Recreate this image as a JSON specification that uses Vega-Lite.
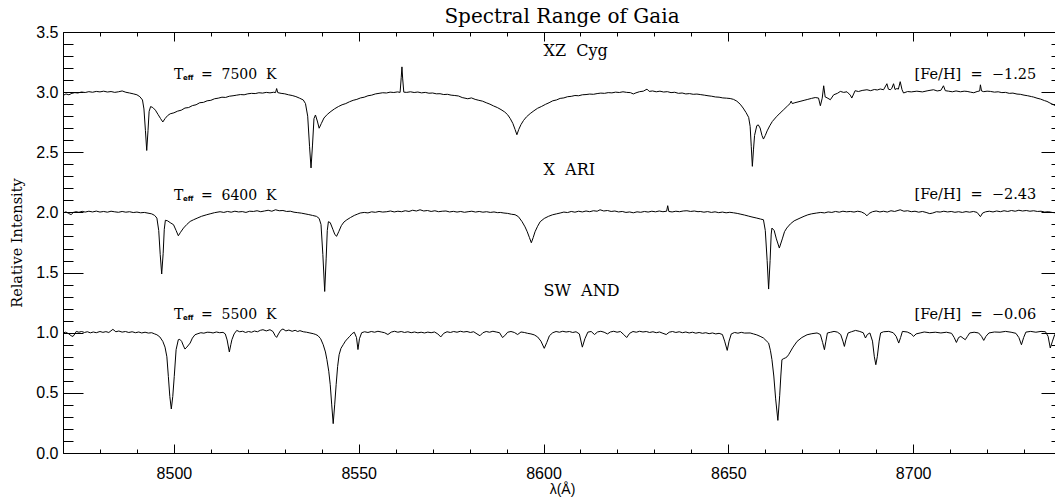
{
"$schema": "https://vega.github.io/schema/vega-lite/v6.json",
"width": 998, "height": 421,
"autosize": {"type": "none"},
"padding": {"left": 63, "top": 32, "right": -6, "bottom": 44},
"background": "white",
"title": {"text": "Spectral Range of Gaia", "font": "DejaVu Serif", "fontSize": 20, "fontWeight": "normal", "color": "black", "offset": 6, "dy": 9, "anchor": "middle"},
"config": {"view": {"stroke": null}, "axis": {"domainColor": "black", "domainWidth": 1, "tickColor": "black", "tickWidth": 1, "labelColor": "black", "titleColor": "black", "grid": false, "labelFont": "Liberation Sans", "labelFontSize": 16}},
"datasets": {
"lab": [
{"s": "XZ Cyg", "tx": 8500, "ty": 3.145, "T": "T", "sub": "eff", "teff": "=\u00a0\u00a07500\u00a0\u00a0K", "fx": 8733.3, "fy": 3.145, "feh": "[Fe/H]\u00a0\u00a0=\u00a0\u00a0−1.25", "nx": 8600, "ny": 3.34, "nm": "XZ\u00a0\u00a0Cyg"},
{"s": "X ARI", "tx": 8500, "ty": 2.14, "T": "T", "sub": "eff", "teff": "=\u00a0\u00a06400\u00a0\u00a0K", "fx": 8733.3, "fy": 2.147, "feh": "[Fe/H]\u00a0\u00a0=\u00a0\u00a0−2.43", "nx": 8600, "ny": 2.35, "nm": "X\u00a0\u00a0ARI"},
{"s": "SW AND", "tx": 8500, "ty": 1.145, "T": "T", "sub": "eff", "teff": "=\u00a0\u00a05500\u00a0\u00a0K", "fx": 8733.3, "fy": 1.15, "feh": "[Fe/H]\u00a0\u00a0=\u00a0\u00a0−0.06", "nx": 8600, "ny": 1.35, "nm": "SW\u00a0\u00a0AND"}
],
"spec": [
{"s":"XZ Cyg","w":8470.0,"f":2.972},{"s":"XZ Cyg","w":8470.8,"f":2.985},{"s":"XZ Cyg","w":8471.6,"f":2.978},{"s":"XZ Cyg","w":8472.4,"f":2.990},{"s":"XZ Cyg","w":8473.2,"f":2.996},{"s":"XZ Cyg","w":8474.0,"f":2.993},{"s":"XZ Cyg","w":8475.0,"f":3.001},{"s":"XZ Cyg","w":8476.0,"f":2.997},{"s":"XZ Cyg","w":8477.0,"f":3.004},{"s":"XZ Cyg","w":8478.0,"f":2.999},{"s":"XZ Cyg","w":8479.0,"f":3.006},{"s":"XZ Cyg","w":8480.0,"f":3.002},{"s":"XZ Cyg","w":8481.0,"f":3.008},{"s":"XZ Cyg","w":8482.0,"f":3.001},{"s":"XZ Cyg","w":8483.0,"f":3.005},{"s":"XZ Cyg","w":8484.0,"f":2.998},{"s":"XZ Cyg","w":8485.0,"f":3.003},{"s":"XZ Cyg","w":8486.0,"f":3.010},{"s":"XZ Cyg","w":8487.0,"f":2.999},{"s":"XZ Cyg","w":8488.0,"f":2.993},{"s":"XZ Cyg","w":8489.0,"f":2.986},{"s":"XZ Cyg","w":8490.0,"f":2.978},{"s":"XZ Cyg","w":8490.8,"f":2.962},{"s":"XZ Cyg","w":8491.5,"f":2.935},{"s":"XZ Cyg","w":8491.9,"f":2.86},{"s":"XZ Cyg","w":8492.3,"f":2.68},{"s":"XZ Cyg","w":8492.65,"f":2.515},{"s":"XZ Cyg","w":8493.0,"f":2.68},{"s":"XZ Cyg","w":8493.3,"f":2.84},{"s":"XZ Cyg","w":8493.7,"f":2.880},{"s":"XZ Cyg","w":8494.3,"f":2.872},{"s":"XZ Cyg","w":8495.0,"f":2.850},{"s":"XZ Cyg","w":8495.7,"f":2.815},{"s":"XZ Cyg","w":8496.4,"f":2.780},{"s":"XZ Cyg","w":8497.0,"f":2.752},{"s":"XZ Cyg","w":8497.6,"f":2.780},{"s":"XZ Cyg","w":8498.3,"f":2.805},{"s":"XZ Cyg","w":8499.0,"f":2.820},{"s":"XZ Cyg","w":8500.0,"f":2.828},{"s":"XZ Cyg","w":8501.0,"f":2.842},{"s":"XZ Cyg","w":8502.0,"f":2.850},{"s":"XZ Cyg","w":8503.0,"f":2.868},{"s":"XZ Cyg","w":8504.0,"f":2.872},{"s":"XZ Cyg","w":8505.0,"f":2.888},{"s":"XZ Cyg","w":8506.0,"f":2.895},{"s":"XZ Cyg","w":8507.0,"f":2.912},{"s":"XZ Cyg","w":8508.0,"f":2.915},{"s":"XZ Cyg","w":8509.0,"f":2.928},{"s":"XZ Cyg","w":8510.0,"f":2.932},{"s":"XZ Cyg","w":8511.0,"f":2.945},{"s":"XZ Cyg","w":8512.0,"f":2.950},{"s":"XZ Cyg","w":8513.0,"f":2.958},{"s":"XZ Cyg","w":8514.0,"f":2.956},{"s":"XZ Cyg","w":8515.0,"f":2.966},{"s":"XZ Cyg","w":8516.0,"f":2.970},{"s":"XZ Cyg","w":8517.0,"f":2.975},{"s":"XZ Cyg","w":8518.0,"f":2.980},{"s":"XZ Cyg","w":8519.0,"f":2.978},{"s":"XZ Cyg","w":8520.0,"f":2.986},{"s":"XZ Cyg","w":8521.0,"f":2.990},{"s":"XZ Cyg","w":8522.0,"f":2.988},{"s":"XZ Cyg","w":8523.0,"f":2.995},{"s":"XZ Cyg","w":8524.0,"f":2.992},{"s":"XZ Cyg","w":8525.0,"f":2.998},{"s":"XZ Cyg","w":8526.0,"f":2.994},{"s":"XZ Cyg","w":8527.0,"f":2.999},{"s":"XZ Cyg","w":8527.5,"f":2.996},{"s":"XZ Cyg","w":8527.8,"f":3.030},{"s":"XZ Cyg","w":8528.1,"f":2.996},{"s":"XZ Cyg","w":8529.0,"f":2.990},{"s":"XZ Cyg","w":8530.0,"f":2.986},{"s":"XZ Cyg","w":8531.0,"f":2.978},{"s":"XZ Cyg","w":8532.0,"f":2.972},{"s":"XZ Cyg","w":8533.0,"f":2.963},{"s":"XZ Cyg","w":8534.0,"f":2.950},{"s":"XZ Cyg","w":8535.0,"f":2.935},{"s":"XZ Cyg","w":8535.6,"f":2.905},{"s":"XZ Cyg","w":8536.2,"f":2.80},{"s":"XZ Cyg","w":8536.7,"f":2.55},{"s":"XZ Cyg","w":8537.1,"f":2.370},{"s":"XZ Cyg","w":8537.5,"f":2.56},{"s":"XZ Cyg","w":8537.9,"f":2.78},{"s":"XZ Cyg","w":8538.3,"f":2.810},{"s":"XZ Cyg","w":8538.8,"f":2.760},{"s":"XZ Cyg","w":8539.3,"f":2.700},{"s":"XZ Cyg","w":8539.9,"f":2.740},{"s":"XZ Cyg","w":8540.6,"f":2.785},{"s":"XZ Cyg","w":8541.5,"f":2.815},{"s":"XZ Cyg","w":8542.5,"f":2.840},{"s":"XZ Cyg","w":8543.5,"f":2.862},{"s":"XZ Cyg","w":8544.5,"f":2.880},{"s":"XZ Cyg","w":8545.5,"f":2.895},{"s":"XZ Cyg","w":8546.5,"f":2.905},{"s":"XZ Cyg","w":8547.5,"f":2.920},{"s":"XZ Cyg","w":8548.5,"f":2.932},{"s":"XZ Cyg","w":8549.5,"f":2.940},{"s":"XZ Cyg","w":8550.5,"f":2.952},{"s":"XZ Cyg","w":8551.5,"f":2.958},{"s":"XZ Cyg","w":8552.5,"f":2.970},{"s":"XZ Cyg","w":8553.5,"f":2.975},{"s":"XZ Cyg","w":8554.5,"f":2.985},{"s":"XZ Cyg","w":8555.5,"f":2.990},{"s":"XZ Cyg","w":8556.5,"f":2.995},{"s":"XZ Cyg","w":8557.5,"f":2.993},{"s":"XZ Cyg","w":8558.5,"f":3.000},{"s":"XZ Cyg","w":8559.5,"f":2.997},{"s":"XZ Cyg","w":8560.5,"f":3.002},{"s":"XZ Cyg","w":8561.2,"f":2.998},{"s":"XZ Cyg","w":8561.5,"f":3.120},{"s":"XZ Cyg","w":8561.7,"f":3.210},{"s":"XZ Cyg","w":8561.9,"f":3.110},{"s":"XZ Cyg","w":8562.2,"f":3.000},{"s":"XZ Cyg","w":8563.0,"f":2.998},{"s":"XZ Cyg","w":8564.0,"f":3.003},{"s":"XZ Cyg","w":8565.0,"f":2.997},{"s":"XZ Cyg","w":8566.0,"f":3.001},{"s":"XZ Cyg","w":8567.0,"f":2.994},{"s":"XZ Cyg","w":8568.0,"f":2.998},{"s":"XZ Cyg","w":8569.0,"f":2.991},{"s":"XZ Cyg","w":8570.0,"f":2.993},{"s":"XZ Cyg","w":8571.0,"f":2.986},{"s":"XZ Cyg","w":8572.0,"f":2.987},{"s":"XZ Cyg","w":8573.0,"f":2.980},{"s":"XZ Cyg","w":8574.0,"f":2.982},{"s":"XZ Cyg","w":8575.0,"f":2.975},{"s":"XZ Cyg","w":8576.0,"f":2.972},{"s":"XZ Cyg","w":8577.0,"f":2.968},{"s":"XZ Cyg","w":8578.0,"f":2.955},{"s":"XZ Cyg","w":8579.5,"f":2.945},{"s":"XZ Cyg","w":8580.5,"f":2.952},{"s":"XZ Cyg","w":8581.5,"f":2.940},{"s":"XZ Cyg","w":8582.5,"f":2.932},{"s":"XZ Cyg","w":8583.5,"f":2.925},{"s":"XZ Cyg","w":8584.5,"f":2.912},{"s":"XZ Cyg","w":8585.5,"f":2.900},{"s":"XZ Cyg","w":8586.5,"f":2.885},{"s":"XZ Cyg","w":8587.5,"f":2.872},{"s":"XZ Cyg","w":8588.5,"f":2.855},{"s":"XZ Cyg","w":8589.5,"f":2.835},{"s":"XZ Cyg","w":8590.3,"f":2.812},{"s":"XZ Cyg","w":8591.0,"f":2.780},{"s":"XZ Cyg","w":8591.7,"f":2.740},{"s":"XZ Cyg","w":8592.3,"f":2.690},{"s":"XZ Cyg","w":8592.8,"f":2.646},{"s":"XZ Cyg","w":8593.3,"f":2.690},{"s":"XZ Cyg","w":8593.9,"f":2.730},{"s":"XZ Cyg","w":8594.6,"f":2.765},{"s":"XZ Cyg","w":8595.4,"f":2.795},{"s":"XZ Cyg","w":8596.4,"f":2.822},{"s":"XZ Cyg","w":8597.4,"f":2.845},{"s":"XZ Cyg","w":8598.4,"f":2.866},{"s":"XZ Cyg","w":8599.4,"f":2.880},{"s":"XZ Cyg","w":8600.5,"f":2.898},{"s":"XZ Cyg","w":8601.5,"f":2.912},{"s":"XZ Cyg","w":8602.5,"f":2.928},{"s":"XZ Cyg","w":8603.5,"f":2.935},{"s":"XZ Cyg","w":8604.5,"f":2.948},{"s":"XZ Cyg","w":8605.5,"f":2.952},{"s":"XZ Cyg","w":8606.5,"f":2.962},{"s":"XZ Cyg","w":8607.5,"f":2.965},{"s":"XZ Cyg","w":8608.5,"f":2.972},{"s":"XZ Cyg","w":8609.5,"f":2.970},{"s":"XZ Cyg","w":8610.5,"f":2.978},{"s":"XZ Cyg","w":8611.5,"f":2.980},{"s":"XZ Cyg","w":8612.5,"f":2.984},{"s":"XZ Cyg","w":8613.5,"f":2.982},{"s":"XZ Cyg","w":8614.5,"f":2.988},{"s":"XZ Cyg","w":8615.5,"f":2.992},{"s":"XZ Cyg","w":8616.5,"f":2.990},{"s":"XZ Cyg","w":8617.5,"f":2.996},{"s":"XZ Cyg","w":8618.5,"f":2.994},{"s":"XZ Cyg","w":8619.5,"f":3.000},{"s":"XZ Cyg","w":8620.5,"f":2.997},{"s":"XZ Cyg","w":8621.5,"f":3.003},{"s":"XZ Cyg","w":8622.5,"f":2.998},{"s":"XZ Cyg","w":8623.5,"f":2.996},{"s":"XZ Cyg","w":8624.3,"f":2.985},{"s":"XZ Cyg","w":8625.0,"f":2.994},{"s":"XZ Cyg","w":8626.0,"f":3.004},{"s":"XZ Cyg","w":8627.0,"f":3.008},{"s":"XZ Cyg","w":8628.0,"f":3.025},{"s":"XZ Cyg","w":8628.6,"f":3.006},{"s":"XZ Cyg","w":8629.5,"f":3.010},{"s":"XZ Cyg","w":8630.5,"f":3.003},{"s":"XZ Cyg","w":8631.5,"f":3.008},{"s":"XZ Cyg","w":8632.5,"f":3.001},{"s":"XZ Cyg","w":8633.5,"f":3.004},{"s":"XZ Cyg","w":8634.5,"f":2.996},{"s":"XZ Cyg","w":8635.5,"f":2.999},{"s":"XZ Cyg","w":8636.5,"f":2.990},{"s":"XZ Cyg","w":8637.5,"f":2.993},{"s":"XZ Cyg","w":8638.5,"f":2.985},{"s":"XZ Cyg","w":8639.5,"f":2.988},{"s":"XZ Cyg","w":8640.5,"f":2.982},{"s":"XZ Cyg","w":8641.5,"f":2.984},{"s":"XZ Cyg","w":8642.4,"f":2.980},{"s":"XZ Cyg","w":8643.5,"f":2.975},{"s":"XZ Cyg","w":8644.5,"f":2.970},{"s":"XZ Cyg","w":8645.5,"f":2.966},{"s":"XZ Cyg","w":8646.5,"f":2.960},{"s":"XZ Cyg","w":8647.5,"f":2.958},{"s":"XZ Cyg","w":8648.5,"f":2.952},{"s":"XZ Cyg","w":8649.5,"f":2.950},{"s":"XZ Cyg","w":8650.5,"f":2.947},{"s":"XZ Cyg","w":8651.4,"f":2.940},{"s":"XZ Cyg","w":8652.3,"f":2.925},{"s":"XZ Cyg","w":8653.2,"f":2.900},{"s":"XZ Cyg","w":8654.0,"f":2.868},{"s":"XZ Cyg","w":8654.8,"f":2.830},{"s":"XZ Cyg","w":8655.5,"f":2.790},{"s":"XZ Cyg","w":8655.9,"f":2.715},{"s":"XZ Cyg","w":8656.2,"f":2.55},{"s":"XZ Cyg","w":8656.5,"f":2.383},{"s":"XZ Cyg","w":8656.8,"f":2.52},{"s":"XZ Cyg","w":8657.1,"f":2.640},{"s":"XZ Cyg","w":8657.7,"f":2.721},{"s":"XZ Cyg","w":8658.1,"f":2.728},{"s":"XZ Cyg","w":8658.6,"f":2.702},{"s":"XZ Cyg","w":8659.1,"f":2.640},{"s":"XZ Cyg","w":8659.5,"f":2.610},{"s":"XZ Cyg","w":8660.0,"f":2.640},{"s":"XZ Cyg","w":8660.5,"f":2.678},{"s":"XZ Cyg","w":8661.2,"f":2.720},{"s":"XZ Cyg","w":8661.9,"f":2.756},{"s":"XZ Cyg","w":8663.0,"f":2.795},{"s":"XZ Cyg","w":8664.0,"f":2.826},{"s":"XZ Cyg","w":8665.0,"f":2.855},{"s":"XZ Cyg","w":8666.0,"f":2.885},{"s":"XZ Cyg","w":8666.7,"f":2.905},{"s":"XZ Cyg","w":8667.0,"f":2.925},{"s":"XZ Cyg","w":8667.3,"f":2.905},{"s":"XZ Cyg","w":8668.0,"f":2.912},{"s":"XZ Cyg","w":8669.4,"f":2.923},{"s":"XZ Cyg","w":8670.5,"f":2.932},{"s":"XZ Cyg","w":8671.5,"f":2.940},{"s":"XZ Cyg","w":8672.5,"f":2.948},{"s":"XZ Cyg","w":8673.5,"f":2.955},{"s":"XZ Cyg","w":8674.4,"f":2.951},{"s":"XZ Cyg","w":8674.9,"f":2.887},{"s":"XZ Cyg","w":8675.4,"f":2.950},{"s":"XZ Cyg","w":8675.8,"f":3.053},{"s":"XZ Cyg","w":8676.2,"f":2.960},{"s":"XZ Cyg","w":8676.7,"f":2.953},{"s":"XZ Cyg","w":8677.6,"f":2.937},{"s":"XZ Cyg","w":8678.5,"f":2.978},{"s":"XZ Cyg","w":8679.5,"f":2.990},{"s":"XZ Cyg","w":8680.3,"f":3.006},{"s":"XZ Cyg","w":8681.2,"f":2.998},{"s":"XZ Cyg","w":8682.1,"f":3.003},{"s":"XZ Cyg","w":8683.0,"f":2.975},{"s":"XZ Cyg","w":8683.4,"f":2.951},{"s":"XZ Cyg","w":8684.3,"f":3.012},{"s":"XZ Cyg","w":8685.2,"f":3.005},{"s":"XZ Cyg","w":8686.2,"f":3.014},{"s":"XZ Cyg","w":8687.5,"f":3.020},{"s":"XZ Cyg","w":8688.5,"f":3.012},{"s":"XZ Cyg","w":8689.5,"f":3.022},{"s":"XZ Cyg","w":8690.3,"f":3.018},{"s":"XZ Cyg","w":8691.1,"f":3.026},{"s":"XZ Cyg","w":8692.0,"f":3.020},{"s":"XZ Cyg","w":8692.9,"f":3.070},{"s":"XZ Cyg","w":8693.3,"f":3.025},{"s":"XZ Cyg","w":8693.8,"f":3.020},{"s":"XZ Cyg","w":8694.2,"f":3.030},{"s":"XZ Cyg","w":8694.7,"f":3.070},{"s":"XZ Cyg","w":8695.1,"f":3.022},{"s":"XZ Cyg","w":8695.6,"f":3.030},{"s":"XZ Cyg","w":8696.0,"f":3.025},{"s":"XZ Cyg","w":8696.5,"f":3.087},{"s":"XZ Cyg","w":8697.0,"f":3.020},{"s":"XZ Cyg","w":8697.4,"f":2.993},{"s":"XZ Cyg","w":8698.5,"f":3.005},{"s":"XZ Cyg","w":8699.5,"f":3.002},{"s":"XZ Cyg","w":8701.0,"f":3.008},{"s":"XZ Cyg","w":8702.5,"f":3.002},{"s":"XZ Cyg","w":8704.0,"f":3.012},{"s":"XZ Cyg","w":8705.5,"f":3.020},{"s":"XZ Cyg","w":8706.5,"f":3.010},{"s":"XZ Cyg","w":8707.5,"f":3.015},{"s":"XZ Cyg","w":8708.2,"f":3.053},{"s":"XZ Cyg","w":8708.7,"f":3.012},{"s":"XZ Cyg","w":8709.6,"f":3.008},{"s":"XZ Cyg","w":8710.6,"f":3.003},{"s":"XZ Cyg","w":8711.6,"f":3.010},{"s":"XZ Cyg","w":8712.8,"f":3.003},{"s":"XZ Cyg","w":8713.8,"f":3.008},{"s":"XZ Cyg","w":8714.6,"f":3.006},{"s":"XZ Cyg","w":8715.5,"f":3.000},{"s":"XZ Cyg","w":8716.4,"f":2.995},{"s":"XZ Cyg","w":8717.3,"f":3.005},{"s":"XZ Cyg","w":8718.0,"f":3.010},{"s":"XZ Cyg","w":8718.2,"f":3.061},{"s":"XZ Cyg","w":8718.5,"f":3.010},{"s":"XZ Cyg","w":8719.1,"f":3.004},{"s":"XZ Cyg","w":8720.0,"f":3.008},{"s":"XZ Cyg","w":8720.9,"f":3.006},{"s":"XZ Cyg","w":8722.0,"f":3.000},{"s":"XZ Cyg","w":8723.0,"f":3.003},{"s":"XZ Cyg","w":8724.0,"f":2.996},{"s":"XZ Cyg","w":8725.0,"f":2.998},{"s":"XZ Cyg","w":8726.0,"f":2.990},{"s":"XZ Cyg","w":8727.0,"f":2.992},{"s":"XZ Cyg","w":8728.1,"f":2.984},{"s":"XZ Cyg","w":8729.0,"f":2.982},{"s":"XZ Cyg","w":8730.0,"f":2.975},{"s":"XZ Cyg","w":8731.0,"f":2.970},{"s":"XZ Cyg","w":8732.0,"f":2.963},{"s":"XZ Cyg","w":8732.6,"f":2.959},{"s":"XZ Cyg","w":8733.5,"f":2.950},{"s":"XZ Cyg","w":8734.5,"f":2.942},{"s":"XZ Cyg","w":8735.5,"f":2.930},{"s":"XZ Cyg","w":8736.2,"f":2.923},{"s":"XZ Cyg","w":8737.0,"f":2.910},{"s":"XZ Cyg","w":8738.0,"f":2.895},{"s":"XZ Cyg","w":8738.5,"f":2.887},{"s":"XZ Cyg","w":8739.3,"f":2.878},{"s":"XZ Cyg","w":8740.0,"f":2.870},
{"s":"X ARI","w":8470.0,"f":1.995},{"s":"X ARI","w":8470.8,"f":2.005},{"s":"X ARI","w":8471.5,"f":1.992},{"s":"X ARI","w":8472.2,"f":1.982},{"s":"X ARI","w":8472.8,"f":2.000},{"s":"X ARI","w":8473.5,"f":2.006},{"s":"X ARI","w":8474.3,"f":2.001},{"s":"X ARI","w":8475.2,"f":2.009},{"s":"X ARI","w":8476.0,"f":2.003},{"s":"X ARI","w":8477.0,"f":2.010},{"s":"X ARI","w":8478.0,"f":2.004},{"s":"X ARI","w":8479.0,"f":2.011},{"s":"X ARI","w":8480.0,"f":2.003},{"s":"X ARI","w":8481.0,"f":2.008},{"s":"X ARI","w":8482.0,"f":2.002},{"s":"X ARI","w":8483.0,"f":2.010},{"s":"X ARI","w":8484.0,"f":2.005},{"s":"X ARI","w":8485.0,"f":2.001},{"s":"X ARI","w":8486.0,"f":2.008},{"s":"X ARI","w":8487.0,"f":2.002},{"s":"X ARI","w":8488.0,"f":2.006},{"s":"X ARI","w":8489.0,"f":1.999},{"s":"X ARI","w":8490.0,"f":2.003},{"s":"X ARI","w":8491.0,"f":1.997},{"s":"X ARI","w":8492.0,"f":2.000},{"s":"X ARI","w":8493.0,"f":1.994},{"s":"X ARI","w":8494.0,"f":1.988},{"s":"X ARI","w":8494.8,"f":1.975},{"s":"X ARI","w":8495.4,"f":1.953},{"s":"X ARI","w":8495.9,"f":1.85},{"s":"X ARI","w":8496.3,"f":1.65},{"s":"X ARI","w":8496.7,"f":1.488},{"s":"X ARI","w":8497.1,"f":1.66},{"s":"X ARI","w":8497.4,"f":1.86},{"s":"X ARI","w":8497.7,"f":1.935},{"s":"X ARI","w":8498.3,"f":1.930},{"s":"X ARI","w":8499.0,"f":1.915},{"s":"X ARI","w":8499.9,"f":1.898},{"s":"X ARI","w":8500.6,"f":1.850},{"s":"X ARI","w":8501.2,"f":1.806},{"s":"X ARI","w":8501.8,"f":1.835},{"s":"X ARI","w":8502.6,"f":1.870},{"s":"X ARI","w":8503.5,"f":1.900},{"s":"X ARI","w":8504.4,"f":1.925},{"s":"X ARI","w":8505.3,"f":1.939},{"s":"X ARI","w":8506.5,"f":1.955},{"s":"X ARI","w":8507.5,"f":1.968},{"s":"X ARI","w":8508.9,"f":1.981},{"s":"X ARI","w":8510.0,"f":1.990},{"s":"X ARI","w":8511.0,"f":1.998},{"s":"X ARI","w":8512.5,"f":2.006},{"s":"X ARI","w":8513.5,"f":2.000},{"s":"X ARI","w":8514.5,"f":2.008},{"s":"X ARI","w":8515.5,"f":2.002},{"s":"X ARI","w":8516.5,"f":2.010},{"s":"X ARI","w":8517.5,"f":2.004},{"s":"X ARI","w":8518.5,"f":2.007},{"s":"X ARI","w":8519.5,"f":2.000},{"s":"X ARI","w":8520.5,"f":2.010},{"s":"X ARI","w":8521.5,"f":2.008},{"s":"X ARI","w":8522.5,"f":2.014},{"s":"X ARI","w":8523.5,"f":2.006},{"s":"X ARI","w":8524.5,"f":2.012},{"s":"X ARI","w":8525.5,"f":2.018},{"s":"X ARI","w":8526.5,"f":2.010},{"s":"X ARI","w":8527.5,"f":2.022},{"s":"X ARI","w":8528.5,"f":2.014},{"s":"X ARI","w":8529.5,"f":2.016},{"s":"X ARI","w":8530.5,"f":2.008},{"s":"X ARI","w":8531.5,"f":2.010},{"s":"X ARI","w":8532.5,"f":2.002},{"s":"X ARI","w":8533.5,"f":1.998},{"s":"X ARI","w":8534.5,"f":1.994},{"s":"X ARI","w":8535.5,"f":1.988},{"s":"X ARI","w":8536.5,"f":1.982},{"s":"X ARI","w":8537.5,"f":1.975},{"s":"X ARI","w":8538.6,"f":1.967},{"s":"X ARI","w":8539.3,"f":1.950},{"s":"X ARI","w":8539.8,"f":1.900},{"s":"X ARI","w":8540.3,"f":1.650},{"s":"X ARI","w":8540.8,"f":1.343},{"s":"X ARI","w":8541.2,"f":1.620},{"s":"X ARI","w":8541.5,"f":1.850},{"s":"X ARI","w":8541.8,"f":1.923},{"s":"X ARI","w":8542.3,"f":1.915},{"s":"X ARI","w":8543.0,"f":1.860},{"s":"X ARI","w":8543.5,"f":1.820},{"s":"X ARI","w":8544.0,"f":1.801},{"s":"X ARI","w":8544.6,"f":1.840},{"s":"X ARI","w":8545.3,"f":1.890},{"s":"X ARI","w":8546.0,"f":1.920},{"s":"X ARI","w":8546.8,"f":1.939},{"s":"X ARI","w":8547.8,"f":1.958},{"s":"X ARI","w":8548.8,"f":1.975},{"s":"X ARI","w":8549.6,"f":1.985},{"s":"X ARI","w":8550.4,"f":1.995},{"s":"X ARI","w":8551.5,"f":2.000},{"s":"X ARI","w":8552.5,"f":1.996},{"s":"X ARI","w":8553.5,"f":2.005},{"s":"X ARI","w":8554.5,"f":2.001},{"s":"X ARI","w":8555.5,"f":2.008},{"s":"X ARI","w":8556.5,"f":2.003},{"s":"X ARI","w":8557.6,"f":2.006},{"s":"X ARI","w":8558.6,"f":2.012},{"s":"X ARI","w":8559.6,"f":2.004},{"s":"X ARI","w":8560.6,"f":2.010},{"s":"X ARI","w":8561.6,"f":2.006},{"s":"X ARI","w":8562.6,"f":2.014},{"s":"X ARI","w":8563.6,"f":2.008},{"s":"X ARI","w":8564.6,"f":2.018},{"s":"X ARI","w":8565.6,"f":2.012},{"s":"X ARI","w":8566.6,"f":2.022},{"s":"X ARI","w":8567.6,"f":2.012},{"s":"X ARI","w":8568.6,"f":2.016},{"s":"X ARI","w":8569.6,"f":2.008},{"s":"X ARI","w":8570.6,"f":2.014},{"s":"X ARI","w":8571.6,"f":2.006},{"s":"X ARI","w":8572.6,"f":2.010},{"s":"X ARI","w":8573.6,"f":2.012},{"s":"X ARI","w":8574.6,"f":2.004},{"s":"X ARI","w":8575.6,"f":2.009},{"s":"X ARI","w":8576.6,"f":2.003},{"s":"X ARI","w":8577.6,"f":2.008},{"s":"X ARI","w":8578.6,"f":2.001},{"s":"X ARI","w":8579.6,"f":2.006},{"s":"X ARI","w":8580.6,"f":2.010},{"s":"X ARI","w":8581.6,"f":2.003},{"s":"X ARI","w":8582.6,"f":2.008},{"s":"X ARI","w":8583.6,"f":2.002},{"s":"X ARI","w":8584.6,"f":2.006},{"s":"X ARI","w":8585.6,"f":2.000},{"s":"X ARI","w":8586.6,"f":2.004},{"s":"X ARI","w":8587.6,"f":1.998},{"s":"X ARI","w":8588.3,"f":2.000},{"s":"X ARI","w":8589.3,"f":1.995},{"s":"X ARI","w":8590.3,"f":1.992},{"s":"X ARI","w":8591.3,"f":1.985},{"s":"X ARI","w":8592.3,"f":1.981},{"s":"X ARI","w":8593.2,"f":1.965},{"s":"X ARI","w":8594.2,"f":1.923},{"s":"X ARI","w":8595.0,"f":1.880},{"s":"X ARI","w":8595.6,"f":1.839},{"s":"X ARI","w":8596.2,"f":1.790},{"s":"X ARI","w":8596.7,"f":1.748},{"s":"X ARI","w":8597.2,"f":1.790},{"s":"X ARI","w":8597.7,"f":1.839},{"s":"X ARI","w":8598.4,"f":1.885},{"s":"X ARI","w":8599.1,"f":1.923},{"s":"X ARI","w":8600.2,"f":1.950},{"s":"X ARI","w":8601.3,"f":1.967},{"s":"X ARI","w":8602.4,"f":1.980},{"s":"X ARI","w":8603.5,"f":1.988},{"s":"X ARI","w":8604.5,"f":1.995},{"s":"X ARI","w":8605.5,"f":2.003},{"s":"X ARI","w":8606.5,"f":1.999},{"s":"X ARI","w":8607.5,"f":2.008},{"s":"X ARI","w":8608.5,"f":2.002},{"s":"X ARI","w":8609.5,"f":2.010},{"s":"X ARI","w":8610.5,"f":2.004},{"s":"X ARI","w":8611.5,"f":2.012},{"s":"X ARI","w":8612.5,"f":2.006},{"s":"X ARI","w":8613.5,"f":2.014},{"s":"X ARI","w":8614.5,"f":2.010},{"s":"X ARI","w":8615.3,"f":2.022},{"s":"X ARI","w":8616.3,"f":2.012},{"s":"X ARI","w":8617.3,"f":2.016},{"s":"X ARI","w":8618.3,"f":2.008},{"s":"X ARI","w":8619.3,"f":2.012},{"s":"X ARI","w":8620.3,"f":2.004},{"s":"X ARI","w":8621.3,"f":2.008},{"s":"X ARI","w":8622.3,"f":2.000},{"s":"X ARI","w":8623.3,"f":2.004},{"s":"X ARI","w":8624.3,"f":1.997},{"s":"X ARI","w":8625.3,"f":2.005},{"s":"X ARI","w":8626.3,"f":2.001},{"s":"X ARI","w":8627.3,"f":2.008},{"s":"X ARI","w":8628.3,"f":2.003},{"s":"X ARI","w":8629.3,"f":2.010},{"s":"X ARI","w":8630.3,"f":2.005},{"s":"X ARI","w":8631.3,"f":2.012},{"s":"X ARI","w":8632.3,"f":2.006},{"s":"X ARI","w":8633.3,"f":2.010},{"s":"X ARI","w":8633.6,"f":2.056},{"s":"X ARI","w":8633.9,"f":2.008},{"s":"X ARI","w":8634.8,"f":2.004},{"s":"X ARI","w":8635.8,"f":2.010},{"s":"X ARI","w":8636.8,"f":2.006},{"s":"X ARI","w":8637.8,"f":2.012},{"s":"X ARI","w":8638.8,"f":2.014},{"s":"X ARI","w":8639.8,"f":2.008},{"s":"X ARI","w":8640.8,"f":2.012},{"s":"X ARI","w":8641.8,"f":2.006},{"s":"X ARI","w":8642.4,"f":2.008},{"s":"X ARI","w":8643.4,"f":2.002},{"s":"X ARI","w":8644.4,"f":2.007},{"s":"X ARI","w":8645.4,"f":2.000},{"s":"X ARI","w":8646.4,"f":2.005},{"s":"X ARI","w":8647.4,"f":1.998},{"s":"X ARI","w":8648.4,"f":2.003},{"s":"X ARI","w":8649.4,"f":1.997},{"s":"X ARI","w":8650.4,"f":2.001},{"s":"X ARI","w":8651.4,"f":1.997},{"s":"X ARI","w":8652.4,"f":1.992},{"s":"X ARI","w":8653.4,"f":1.985},{"s":"X ARI","w":8654.4,"f":1.978},{"s":"X ARI","w":8655.4,"f":1.970},{"s":"X ARI","w":8656.4,"f":1.962},{"s":"X ARI","w":8657.7,"f":1.953},{"s":"X ARI","w":8658.7,"f":1.945},{"s":"X ARI","w":8659.5,"f":1.939},{"s":"X ARI","w":8660.0,"f":1.85},{"s":"X ARI","w":8660.5,"f":1.60},{"s":"X ARI","w":8660.9,"f":1.363},{"s":"X ARI","w":8661.3,"f":1.60},{"s":"X ARI","w":8661.6,"f":1.82},{"s":"X ARI","w":8661.8,"f":1.870},{"s":"X ARI","w":8662.4,"f":1.850},{"s":"X ARI","w":8663.0,"f":1.780},{"s":"X ARI","w":8663.8,"f":1.704},{"s":"X ARI","w":8664.6,"f":1.780},{"s":"X ARI","w":8665.2,"f":1.840},{"s":"X ARI","w":8665.8,"f":1.870},{"s":"X ARI","w":8666.8,"f":1.905},{"s":"X ARI","w":8667.8,"f":1.930},{"s":"X ARI","w":8669.4,"f":1.953},{"s":"X ARI","w":8670.5,"f":1.968},{"s":"X ARI","w":8671.5,"f":1.980},{"s":"X ARI","w":8672.5,"f":1.988},{"s":"X ARI","w":8673.9,"f":1.995},{"s":"X ARI","w":8675.0,"f":2.000},{"s":"X ARI","w":8676.0,"f":1.996},{"s":"X ARI","w":8677.0,"f":2.004},{"s":"X ARI","w":8678.0,"f":2.000},{"s":"X ARI","w":8679.0,"f":2.008},{"s":"X ARI","w":8680.0,"f":2.002},{"s":"X ARI","w":8681.0,"f":2.010},{"s":"X ARI","w":8682.0,"f":2.005},{"s":"X ARI","w":8683.0,"f":2.008},{"s":"X ARI","w":8684.0,"f":2.003},{"s":"X ARI","w":8685.0,"f":2.010},{"s":"X ARI","w":8686.0,"f":2.004},{"s":"X ARI","w":8686.9,"f":1.990},{"s":"X ARI","w":8687.5,"f":1.972},{"s":"X ARI","w":8688.1,"f":1.992},{"s":"X ARI","w":8689.0,"f":2.006},{"s":"X ARI","w":8690.0,"f":2.012},{"s":"X ARI","w":8691.0,"f":2.004},{"s":"X ARI","w":8692.0,"f":2.010},{"s":"X ARI","w":8693.0,"f":2.003},{"s":"X ARI","w":8694.0,"f":2.014},{"s":"X ARI","w":8695.0,"f":2.008},{"s":"X ARI","w":8696.5,"f":2.022},{"s":"X ARI","w":8697.5,"f":2.010},{"s":"X ARI","w":8698.5,"f":2.014},{"s":"X ARI","w":8699.5,"f":2.006},{"s":"X ARI","w":8700.5,"f":2.010},{"s":"X ARI","w":8701.5,"f":2.002},{"s":"X ARI","w":8702.5,"f":2.008},{"s":"X ARI","w":8703.5,"f":2.000},{"s":"X ARI","w":8704.5,"f":1.990},{"s":"X ARI","w":8705.3,"f":1.995},{"s":"X ARI","w":8706.3,"f":2.006},{"s":"X ARI","w":8707.3,"f":2.003},{"s":"X ARI","w":8708.3,"f":2.010},{"s":"X ARI","w":8709.3,"f":2.004},{"s":"X ARI","w":8710.3,"f":2.008},{"s":"X ARI","w":8711.3,"f":2.001},{"s":"X ARI","w":8712.3,"f":2.006},{"s":"X ARI","w":8713.3,"f":2.000},{"s":"X ARI","w":8714.3,"f":2.007},{"s":"X ARI","w":8715.3,"f":2.002},{"s":"X ARI","w":8716.3,"f":2.008},{"s":"X ARI","w":8717.3,"f":2.000},{"s":"X ARI","w":8718.2,"f":1.965},{"s":"X ARI","w":8718.8,"f":1.995},{"s":"X ARI","w":8719.6,"f":2.005},{"s":"X ARI","w":8720.6,"f":2.010},{"s":"X ARI","w":8721.6,"f":2.004},{"s":"X ARI","w":8722.6,"f":2.012},{"s":"X ARI","w":8723.6,"f":2.006},{"s":"X ARI","w":8724.6,"f":2.014},{"s":"X ARI","w":8725.6,"f":2.008},{"s":"X ARI","w":8726.6,"f":2.016},{"s":"X ARI","w":8727.6,"f":2.010},{"s":"X ARI","w":8728.6,"f":2.018},{"s":"X ARI","w":8729.6,"f":2.012},{"s":"X ARI","w":8730.6,"f":2.016},{"s":"X ARI","w":8731.6,"f":2.010},{"s":"X ARI","w":8732.6,"f":2.014},{"s":"X ARI","w":8733.6,"f":2.008},{"s":"X ARI","w":8734.6,"f":2.010},{"s":"X ARI","w":8735.6,"f":2.003},{"s":"X ARI","w":8736.6,"f":2.006},{"s":"X ARI","w":8737.6,"f":2.000},{"s":"X ARI","w":8738.6,"f":1.997},{"s":"X ARI","w":8739.5,"f":1.993},{"s":"X ARI","w":8740.0,"f":1.995},
{"s":"SW AND","w":8470.0,"f":0.998},{"s":"SW AND","w":8470.7,"f":1.004},{"s":"SW AND","w":8471.5,"f":0.992},{"s":"SW AND","w":8472.2,"f":0.975},{"s":"SW AND","w":8472.7,"f":0.969},{"s":"SW AND","w":8473.2,"f":0.990},{"s":"SW AND","w":8473.6,"f":1.011},{"s":"SW AND","w":8474.3,"f":1.004},{"s":"SW AND","w":8475.0,"f":1.010},{"s":"SW AND","w":8475.8,"f":1.002},{"s":"SW AND","w":8476.6,"f":1.008},{"s":"SW AND","w":8477.4,"f":0.999},{"s":"SW AND","w":8478.2,"f":1.006},{"s":"SW AND","w":8479.0,"f":1.000},{"s":"SW AND","w":8480.0,"f":1.010},{"s":"SW AND","w":8480.8,"f":1.003},{"s":"SW AND","w":8481.6,"f":1.009},{"s":"SW AND","w":8482.4,"f":1.002},{"s":"SW AND","w":8483.5,"f":1.028},{"s":"SW AND","w":8484.3,"f":1.008},{"s":"SW AND","w":8485.1,"f":1.014},{"s":"SW AND","w":8486.0,"f":1.005},{"s":"SW AND","w":8486.9,"f":1.010},{"s":"SW AND","w":8487.8,"f":1.002},{"s":"SW AND","w":8488.7,"f":1.008},{"s":"SW AND","w":8489.6,"f":1.000},{"s":"SW AND","w":8490.5,"f":1.006},{"s":"SW AND","w":8491.3,"f":0.998},{"s":"SW AND","w":8492.2,"f":1.004},{"s":"SW AND","w":8493.1,"f":0.997},{"s":"SW AND","w":8494.0,"f":1.000},{"s":"SW AND","w":8494.8,"f":0.990},{"s":"SW AND","w":8495.4,"f":0.983},{"s":"SW AND","w":8496.2,"f":0.965},{"s":"SW AND","w":8497.0,"f":0.928},{"s":"SW AND","w":8497.6,"f":0.880},{"s":"SW AND","w":8498.1,"f":0.800},{"s":"SW AND","w":8498.5,"f":0.637},{"s":"SW AND","w":8498.9,"f":0.470},{"s":"SW AND","w":8499.3,"f":0.366},{"s":"SW AND","w":8499.7,"f":0.470},{"s":"SW AND","w":8500.1,"f":0.637},{"s":"SW AND","w":8500.6,"f":0.859},{"s":"SW AND","w":8501.2,"f":0.942},{"s":"SW AND","w":8501.6,"f":0.945},{"s":"SW AND","w":8502.1,"f":0.928},{"s":"SW AND","w":8502.6,"f":0.890},{"s":"SW AND","w":8503.0,"f":0.864},{"s":"SW AND","w":8503.5,"f":0.880},{"s":"SW AND","w":8504.4,"f":0.914},{"s":"SW AND","w":8505.0,"f":0.955},{"s":"SW AND","w":8505.7,"f":0.983},{"s":"SW AND","w":8506.5,"f":0.992},{"s":"SW AND","w":8507.3,"f":1.000},{"s":"SW AND","w":8508.1,"f":0.996},{"s":"SW AND","w":8509.0,"f":1.004},{"s":"SW AND","w":8509.8,"f":1.003},{"s":"SW AND","w":8510.6,"f":0.998},{"s":"SW AND","w":8511.5,"f":1.006},{"s":"SW AND","w":8512.4,"f":1.000},{"s":"SW AND","w":8513.3,"f":1.003},{"s":"SW AND","w":8513.9,"f":0.990},{"s":"SW AND","w":8514.4,"f":0.940},{"s":"SW AND","w":8515.0,"f":0.840},{"s":"SW AND","w":8515.4,"f":0.900},{"s":"SW AND","w":8515.7,"f":0.942},{"s":"SW AND","w":8516.3,"f":0.990},{"s":"SW AND","w":8517.0,"f":1.019},{"s":"SW AND","w":8517.8,"f":1.008},{"s":"SW AND","w":8518.6,"f":1.012},{"s":"SW AND","w":8519.4,"f":1.002},{"s":"SW AND","w":8520.2,"f":1.010},{"s":"SW AND","w":8521.0,"f":1.004},{"s":"SW AND","w":8521.8,"f":1.014},{"s":"SW AND","w":8522.6,"f":1.008},{"s":"SW AND","w":8523.4,"f":1.020},{"s":"SW AND","w":8524.1,"f":1.025},{"s":"SW AND","w":8525.0,"f":1.015},{"s":"SW AND","w":8526.0,"f":1.025},{"s":"SW AND","w":8526.8,"f":1.010},{"s":"SW AND","w":8527.4,"f":0.975},{"s":"SW AND","w":8527.8,"f":0.961},{"s":"SW AND","w":8528.3,"f":0.990},{"s":"SW AND","w":8528.9,"f":1.020},{"s":"SW AND","w":8529.5,"f":1.031},{"s":"SW AND","w":8530.3,"f":1.015},{"s":"SW AND","w":8531.1,"f":1.022},{"s":"SW AND","w":8532.0,"f":1.012},{"s":"SW AND","w":8532.8,"f":1.020},{"s":"SW AND","w":8533.5,"f":1.010},{"s":"SW AND","w":8534.1,"f":1.017},{"s":"SW AND","w":8535.0,"f":1.008},{"s":"SW AND","w":8535.9,"f":1.004},{"s":"SW AND","w":8536.8,"f":0.998},{"s":"SW AND","w":8537.7,"f":0.992},{"s":"SW AND","w":8538.4,"f":0.985},{"s":"SW AND","w":8539.0,"f":0.975},{"s":"SW AND","w":8539.7,"f":0.950},{"s":"SW AND","w":8540.4,"f":0.900},{"s":"SW AND","w":8541.0,"f":0.840},{"s":"SW AND","w":8541.4,"f":0.776},{"s":"SW AND","w":8541.9,"f":0.680},{"s":"SW AND","w":8542.3,"f":0.568},{"s":"SW AND","w":8542.7,"f":0.400},{"s":"SW AND","w":8543.1,"f":0.244},{"s":"SW AND","w":8543.5,"f":0.400},{"s":"SW AND","w":8543.9,"f":0.568},{"s":"SW AND","w":8544.3,"f":0.720},{"s":"SW AND","w":8544.7,"f":0.817},{"s":"SW AND","w":8545.2,"f":0.870},{"s":"SW AND","w":8545.8,"f":0.900},{"s":"SW AND","w":8546.4,"f":0.930},{"s":"SW AND","w":8547.1,"f":0.955},{"s":"SW AND","w":8547.6,"f":0.970},{"s":"SW AND","w":8548.2,"f":0.992},{"s":"SW AND","w":8548.8,"f":1.004},{"s":"SW AND","w":8549.4,"f":0.960},{"s":"SW AND","w":8549.8,"f":0.860},{"s":"SW AND","w":8550.2,"f":0.950},{"s":"SW AND","w":8550.8,"f":1.000},{"s":"SW AND","w":8551.6,"f":1.008},{"s":"SW AND","w":8552.5,"f":1.002},{"s":"SW AND","w":8553.4,"f":1.010},{"s":"SW AND","w":8554.3,"f":1.004},{"s":"SW AND","w":8555.2,"f":1.012},{"s":"SW AND","w":8556.1,"f":1.006},{"s":"SW AND","w":8557.0,"f":1.000},{"s":"SW AND","w":8557.9,"f":0.985},{"s":"SW AND","w":8558.8,"f":1.005},{"s":"SW AND","w":8559.7,"f":1.012},{"s":"SW AND","w":8560.6,"f":1.004},{"s":"SW AND","w":8561.5,"f":1.010},{"s":"SW AND","w":8562.4,"f":1.002},{"s":"SW AND","w":8563.3,"f":1.008},{"s":"SW AND","w":8564.2,"f":1.000},{"s":"SW AND","w":8565.1,"f":1.006},{"s":"SW AND","w":8566.0,"f":0.999},{"s":"SW AND","w":8566.9,"f":1.004},{"s":"SW AND","w":8567.8,"f":0.998},{"s":"SW AND","w":8568.7,"f":1.005},{"s":"SW AND","w":8569.6,"f":1.000},{"s":"SW AND","w":8570.5,"f":1.006},{"s":"SW AND","w":8571.4,"f":0.990},{"s":"SW AND","w":8572.2,"f":0.965},{"s":"SW AND","w":8573.0,"f":0.995},{"s":"SW AND","w":8573.9,"f":1.008},{"s":"SW AND","w":8574.8,"f":1.002},{"s":"SW AND","w":8575.7,"f":1.010},{"s":"SW AND","w":8576.6,"f":1.004},{"s":"SW AND","w":8577.5,"f":1.012},{"s":"SW AND","w":8578.4,"f":1.006},{"s":"SW AND","w":8579.3,"f":1.010},{"s":"SW AND","w":8580.2,"f":1.002},{"s":"SW AND","w":8581.1,"f":1.008},{"s":"SW AND","w":8582.0,"f":0.990},{"s":"SW AND","w":8582.8,"f":0.975},{"s":"SW AND","w":8583.6,"f":1.000},{"s":"SW AND","w":8584.5,"f":1.010},{"s":"SW AND","w":8585.4,"f":1.004},{"s":"SW AND","w":8586.3,"f":1.012},{"s":"SW AND","w":8587.2,"f":1.006},{"s":"SW AND","w":8588.1,"f":1.000},{"s":"SW AND","w":8588.9,"f":0.960},{"s":"SW AND","w":8589.5,"f":0.975},{"s":"SW AND","w":8590.3,"f":1.004},{"s":"SW AND","w":8591.2,"f":1.010},{"s":"SW AND","w":8592.1,"f":1.002},{"s":"SW AND","w":8593.0,"f":0.985},{"s":"SW AND","w":8593.9,"f":1.006},{"s":"SW AND","w":8594.8,"f":1.002},{"s":"SW AND","w":8595.7,"f":0.995},{"s":"SW AND","w":8596.6,"f":0.990},{"s":"SW AND","w":8597.5,"f":0.982},{"s":"SW AND","w":8598.4,"f":0.965},{"s":"SW AND","w":8599.3,"f":0.930},{"s":"SW AND","w":8600.2,"f":0.870},{"s":"SW AND","w":8600.9,"f":0.920},{"s":"SW AND","w":8601.6,"f":0.975},{"s":"SW AND","w":8602.5,"f":1.000},{"s":"SW AND","w":8603.4,"f":1.010},{"s":"SW AND","w":8604.3,"f":1.004},{"s":"SW AND","w":8605.2,"f":1.012},{"s":"SW AND","w":8606.1,"f":1.006},{"s":"SW AND","w":8607.0,"f":1.010},{"s":"SW AND","w":8607.9,"f":1.002},{"s":"SW AND","w":8608.8,"f":1.008},{"s":"SW AND","w":8609.7,"f":0.990},{"s":"SW AND","w":8610.5,"f":0.880},{"s":"SW AND","w":8611.2,"f":0.950},{"s":"SW AND","w":8612.0,"f":1.005},{"s":"SW AND","w":8612.9,"f":1.010},{"s":"SW AND","w":8613.8,"f":0.985},{"s":"SW AND","w":8614.6,"f":1.006},{"s":"SW AND","w":8615.5,"f":1.012},{"s":"SW AND","w":8616.4,"f":1.004},{"s":"SW AND","w":8617.3,"f":0.990},{"s":"SW AND","w":8618.1,"f":1.006},{"s":"SW AND","w":8619.0,"f":1.012},{"s":"SW AND","w":8619.9,"f":1.004},{"s":"SW AND","w":8620.8,"f":1.010},{"s":"SW AND","w":8621.7,"f":0.985},{"s":"SW AND","w":8622.5,"f":0.960},{"s":"SW AND","w":8623.3,"f":0.995},{"s":"SW AND","w":8624.2,"f":1.010},{"s":"SW AND","w":8625.1,"f":1.004},{"s":"SW AND","w":8626.0,"f":1.012},{"s":"SW AND","w":8626.9,"f":1.006},{"s":"SW AND","w":8627.8,"f":1.010},{"s":"SW AND","w":8628.7,"f":1.002},{"s":"SW AND","w":8629.6,"f":1.008},{"s":"SW AND","w":8630.5,"f":1.000},{"s":"SW AND","w":8631.4,"f":1.006},{"s":"SW AND","w":8632.3,"f":0.995},{"s":"SW AND","w":8633.2,"f":0.985},{"s":"SW AND","w":8634.0,"f":1.004},{"s":"SW AND","w":8634.9,"f":1.010},{"s":"SW AND","w":8635.8,"f":1.002},{"s":"SW AND","w":8636.7,"f":1.008},{"s":"SW AND","w":8637.6,"f":1.000},{"s":"SW AND","w":8638.5,"f":1.006},{"s":"SW AND","w":8639.4,"f":0.998},{"s":"SW AND","w":8640.3,"f":1.004},{"s":"SW AND","w":8641.2,"f":0.996},{"s":"SW AND","w":8642.1,"f":1.002},{"s":"SW AND","w":8643.0,"f":0.995},{"s":"SW AND","w":8643.9,"f":1.000},{"s":"SW AND","w":8644.8,"f":0.992},{"s":"SW AND","w":8645.7,"f":0.998},{"s":"SW AND","w":8646.6,"f":0.990},{"s":"SW AND","w":8647.5,"f":0.995},{"s":"SW AND","w":8648.4,"f":0.985},{"s":"SW AND","w":8649.0,"f":0.930},{"s":"SW AND","w":8649.7,"f":0.853},{"s":"SW AND","w":8650.2,"f":0.930},{"s":"SW AND","w":8650.8,"f":0.990},{"s":"SW AND","w":8651.7,"f":1.002},{"s":"SW AND","w":8652.6,"f":0.996},{"s":"SW AND","w":8653.5,"f":1.003},{"s":"SW AND","w":8654.4,"f":0.997},{"s":"SW AND","w":8655.9,"f":0.998},{"s":"SW AND","w":8656.8,"f":0.990},{"s":"SW AND","w":8657.7,"f":0.982},{"s":"SW AND","w":8658.6,"f":0.970},{"s":"SW AND","w":8659.5,"f":0.956},{"s":"SW AND","w":8660.2,"f":0.935},{"s":"SW AND","w":8660.9,"f":0.914},{"s":"SW AND","w":8661.4,"f":0.850},{"s":"SW AND","w":8661.8,"f":0.776},{"s":"SW AND","w":8662.3,"f":0.640},{"s":"SW AND","w":8662.8,"f":0.450},{"s":"SW AND","w":8663.4,"f":0.271},{"s":"SW AND","w":8663.9,"f":0.480},{"s":"SW AND","w":8664.2,"f":0.640},{"s":"SW AND","w":8664.5,"f":0.776},{"s":"SW AND","w":8665.0,"f":0.785},{"s":"SW AND","w":8665.4,"f":0.790},{"s":"SW AND","w":8665.9,"f":0.800},{"s":"SW AND","w":8666.3,"f":0.817},{"s":"SW AND","w":8667.5,"f":0.880},{"s":"SW AND","w":8668.6,"f":0.928},{"s":"SW AND","w":8669.9,"f":0.960},{"s":"SW AND","w":8671.3,"f":0.983},{"s":"SW AND","w":8672.6,"f":0.992},{"s":"SW AND","w":8674.0,"f":0.998},{"s":"SW AND","w":8674.9,"f":0.985},{"s":"SW AND","w":8675.5,"f":0.920},{"s":"SW AND","w":8676.0,"f":0.859},{"s":"SW AND","w":8676.4,"f":0.930},{"s":"SW AND","w":8676.8,"f":0.998},{"s":"SW AND","w":8677.7,"f":1.004},{"s":"SW AND","w":8678.6,"f":1.011},{"s":"SW AND","w":8679.5,"f":1.005},{"s":"SW AND","w":8680.4,"f":0.985},{"s":"SW AND","w":8681.0,"f":0.930},{"s":"SW AND","w":8681.4,"f":0.886},{"s":"SW AND","w":8681.8,"f":0.940},{"s":"SW AND","w":8682.4,"f":0.998},{"s":"SW AND","w":8683.3,"f":1.008},{"s":"SW AND","w":8684.4,"f":1.019},{"s":"SW AND","w":8685.4,"f":1.012},{"s":"SW AND","w":8686.5,"f":1.000},{"s":"SW AND","w":8687.1,"f":0.956},{"s":"SW AND","w":8687.6,"f":0.985},{"s":"SW AND","w":8688.3,"f":0.998},{"s":"SW AND","w":8689.0,"f":0.930},{"s":"SW AND","w":8689.5,"f":0.800},{"s":"SW AND","w":8689.9,"f":0.734},{"s":"SW AND","w":8690.3,"f":0.800},{"s":"SW AND","w":8690.8,"f":0.930},{"s":"SW AND","w":8691.2,"f":0.998},{"s":"SW AND","w":8692.0,"f":1.008},{"s":"SW AND","w":8693.4,"f":1.011},{"s":"SW AND","w":8694.6,"f":1.000},{"s":"SW AND","w":8695.4,"f":0.970},{"s":"SW AND","w":8696.1,"f":0.914},{"s":"SW AND","w":8696.6,"f":0.960},{"s":"SW AND","w":8697.1,"f":1.011},{"s":"SW AND","w":8698.4,"f":1.006},{"s":"SW AND","w":8699.5,"f":0.990},{"s":"SW AND","w":8700.1,"f":0.969},{"s":"SW AND","w":8700.8,"f":0.990},{"s":"SW AND","w":8701.9,"f":0.998},{"s":"SW AND","w":8703.0,"f":1.006},{"s":"SW AND","w":8704.5,"f":1.000},{"s":"SW AND","w":8706.0,"f":1.004},{"s":"SW AND","w":8707.5,"f":0.998},{"s":"SW AND","w":8709.0,"f":1.004},{"s":"SW AND","w":8710.4,"f":0.995},{"s":"SW AND","w":8711.1,"f":0.960},{"s":"SW AND","w":8711.7,"f":0.919},{"s":"SW AND","w":8712.3,"f":0.960},{"s":"SW AND","w":8712.9,"f":0.969},{"s":"SW AND","w":8713.5,"f":0.955},{"s":"SW AND","w":8714.1,"f":0.942},{"s":"SW AND","w":8714.7,"f":0.970},{"s":"SW AND","w":8715.3,"f":0.998},{"s":"SW AND","w":8716.5,"f":1.004},{"s":"SW AND","w":8717.7,"f":0.998},{"s":"SW AND","w":8718.5,"f":0.970},{"s":"SW AND","w":8719.1,"f":0.936},{"s":"SW AND","w":8719.7,"f":0.970},{"s":"SW AND","w":8720.5,"f":0.998},{"s":"SW AND","w":8722.0,"f":1.006},{"s":"SW AND","w":8723.5,"f":1.004},{"s":"SW AND","w":8725.0,"f":1.011},{"s":"SW AND","w":8726.5,"f":1.004},{"s":"SW AND","w":8727.8,"f":0.995},{"s":"SW AND","w":8728.6,"f":0.960},{"s":"SW AND","w":8729.3,"f":0.900},{"s":"SW AND","w":8729.9,"f":0.960},{"s":"SW AND","w":8730.5,"f":1.005},{"s":"SW AND","w":8731.8,"f":1.011},{"s":"SW AND","w":8733.2,"f":1.004},{"s":"SW AND","w":8734.6,"f":1.011},{"s":"SW AND","w":8735.8,"f":1.008},{"s":"SW AND","w":8736.5,"f":0.970},{"s":"SW AND","w":8737.1,"f":0.873},{"s":"SW AND","w":8737.7,"f":0.930},{"s":"SW AND","w":8738.3,"f":0.985},{"s":"SW AND","w":8739.2,"f":0.995},{"s":"SW AND","w":8740.0,"f":1.000}
]
},
"layer": [
{"data": {"name": "spec"},
 "mark": {"type": "line", "color": "black", "strokeWidth": 1, "clip": true},
 "encoding": {
  "x": {"field": "w", "type": "quantitative", "scale": {"domain": [8470, 8740], "nice": false, "zero": false},
        "axis": {"orient": "bottom", "values": [8500, 8550, 8600, 8650, 8700], "format": "d", "ticks": false, "domain": true, "labelPadding": 12, "title": "λ(Å)", "titleFont": "Liberation Sans", "titleFontSize": 14, "titleFontWeight": "normal", "titleY": 29, "titleBaseline": "top"}},
  "y": {"field": "f", "type": "quantitative", "scale": {"domain": [0, 3.5], "nice": false, "zero": false},
        "axis": {"orient": "left", "values": [0, 0.5, 1, 1.5, 2, 2.5, 3, 3.5], "format": ".1f", "ticks": false, "domain": true, "labelPadding": 5, "title": "Relative Intensity", "titleFont": "DejaVu Serif", "titleFontSize": 14.5, "titleFontWeight": "normal", "titlePadding": 11}},
  "detail": {"field": "s"}
 }},
{"data": {"name": "lab"},
 "mark": {"type": "point", "opacity": 0},
 "encoding": {
  "x": {"field": "tx", "type": "quantitative", "scale": {"domain": [8470, 8740], "nice": false, "zero": false},
        "axis": {"orient": "bottom", "values": [8500, 8550, 8600, 8650, 8700], "tickSize": -9, "labels": false, "domain": false, "title": null}},
  "y": {"field": "ty", "type": "quantitative", "scale": {"domain": [0, 3.5], "nice": false, "zero": false},
        "axis": {"orient": "left", "values": [0, 0.5, 1, 1.5, 2, 2.5, 3, 3.5], "tickSize": -20, "labels": false, "domain": false, "title": null}}
 }},
{"data": {"name": "lab"},
 "mark": {"type": "point", "opacity": 0},
 "encoding": {
  "x": {"field": "tx", "type": "quantitative", "scale": {"domain": [8470, 8740], "nice": false, "zero": false},
        "axis": {"orient": "bottom", "values": [8470, 8480, 8490, 8510, 8520, 8530, 8540, 8560, 8570, 8580, 8590, 8610, 8620, 8630, 8640, 8660, 8670, 8680, 8690, 8710, 8720, 8730], "tickSize": -4, "labels": false, "domain": false, "title": null}},
  "y": {"field": "ty", "type": "quantitative", "scale": {"domain": [0, 3.5], "nice": false, "zero": false},
        "axis": {"orient": "left", "values": [0.1, 0.2, 0.3, 0.4, 0.6, 0.7, 0.8, 0.9, 1.1, 1.2, 1.3, 1.4, 1.6, 1.7, 1.8, 1.9, 2.1, 2.2, 2.3, 2.4, 2.6, 2.7, 2.8, 2.9, 3.1, 3.2, 3.3, 3.4], "tickSize": -10, "labels": false, "domain": false, "title": null}}
 }},
{"data": {"name": "lab"},
 "mark": {"type": "point", "opacity": 0},
 "encoding": {
  "x": {"field": "tx", "type": "quantitative", "scale": {"domain": [8470, 8740], "nice": false, "zero": false},
        "axis": {"orient": "top", "values": [8500, 8550, 8600, 8650, 8700], "tickSize": -9, "labels": false, "domain": true, "title": null}},
  "y": {"field": "ty", "type": "quantitative", "scale": {"domain": [0, 3.5], "nice": false, "zero": false},
        "axis": {"orient": "right", "values": [0, 0.5, 1, 1.5, 2, 2.5, 3, 3.5], "tickSize": -20, "labels": false, "domain": true, "title": null}}
 }},
{"data": {"name": "lab"},
 "mark": {"type": "point", "opacity": 0},
 "encoding": {
  "x": {"field": "tx", "type": "quantitative", "scale": {"domain": [8470, 8740], "nice": false, "zero": false},
        "axis": {"orient": "top", "values": [8470, 8480, 8490, 8510, 8520, 8530, 8540, 8560, 8570, 8580, 8590, 8610, 8620, 8630, 8640, 8660, 8670, 8680, 8690, 8710, 8720, 8730], "tickSize": -4, "labels": false, "domain": false, "title": null}},
  "y": {"field": "ty", "type": "quantitative", "scale": {"domain": [0, 3.5], "nice": false, "zero": false},
        "axis": {"orient": "right", "values": [0.1, 0.2, 0.3, 0.4, 0.6, 0.7, 0.8, 0.9, 1.1, 1.2, 1.3, 1.4, 1.6, 1.7, 1.8, 1.9, 2.1, 2.2, 2.3, 2.4, 2.6, 2.7, 2.8, 2.9, 3.1, 3.2, 3.3, 3.4], "tickSize": -10, "labels": false, "domain": false, "title": null}}
 }},
{"data": {"name": "lab"},
 "mark": {"type": "text", "align": "left", "baseline": "middle", "font": "DejaVu Serif", "fontSize": 14, "color": "black"},
 "encoding": {
  "x": {"field": "tx", "type": "quantitative", "scale": {"domain": [8470, 8740], "nice": false, "zero": false}, "axis": null},
  "y": {"field": "ty", "type": "quantitative", "scale": {"domain": [0, 3.5], "nice": false, "zero": false}, "axis": null},
  "text": {"field": "T"}
 }},
{"data": {"name": "lab"},
 "mark": {"type": "text", "align": "left", "baseline": "middle", "font": "DejaVu Sans", "fontSize": 7, "fontWeight": "bold", "color": "black", "dx": 9, "dy": 3},
 "encoding": {
  "x": {"field": "tx", "type": "quantitative", "scale": {"domain": [8470, 8740], "nice": false, "zero": false}, "axis": null},
  "y": {"field": "ty", "type": "quantitative", "scale": {"domain": [0, 3.5], "nice": false, "zero": false}, "axis": null},
  "text": {"field": "sub"}
 }},
{"data": {"name": "lab"},
 "mark": {"type": "text", "align": "left", "baseline": "middle", "font": "DejaVu Serif", "fontSize": 14, "color": "black", "dx": 27},
 "encoding": {
  "x": {"field": "tx", "type": "quantitative", "scale": {"domain": [8470, 8740], "nice": false, "zero": false}, "axis": null},
  "y": {"field": "ty", "type": "quantitative", "scale": {"domain": [0, 3.5], "nice": false, "zero": false}, "axis": null},
  "text": {"field": "teff"}
 }},
{"data": {"name": "lab"},
 "mark": {"type": "text", "align": "right", "baseline": "middle", "font": "DejaVu Serif", "fontSize": 14.5, "color": "black"},
 "encoding": {
  "x": {"field": "fx", "type": "quantitative", "scale": {"domain": [8470, 8740], "nice": false, "zero": false}, "axis": null},
  "y": {"field": "fy", "type": "quantitative", "scale": {"domain": [0, 3.5], "nice": false, "zero": false}, "axis": null},
  "text": {"field": "feh"}
 }},
{"data": {"name": "lab"},
 "mark": {"type": "text", "align": "left", "baseline": "middle", "font": "DejaVu Serif", "fontSize": 16, "color": "black"},
 "encoding": {
  "x": {"field": "nx", "type": "quantitative", "scale": {"domain": [8470, 8740], "nice": false, "zero": false}, "axis": null},
  "y": {"field": "ny", "type": "quantitative", "scale": {"domain": [0, 3.5], "nice": false, "zero": false}, "axis": null},
  "text": {"field": "nm"}
 }}
],
"resolve": {"axis": {"x": "independent", "y": "independent"}}
}
